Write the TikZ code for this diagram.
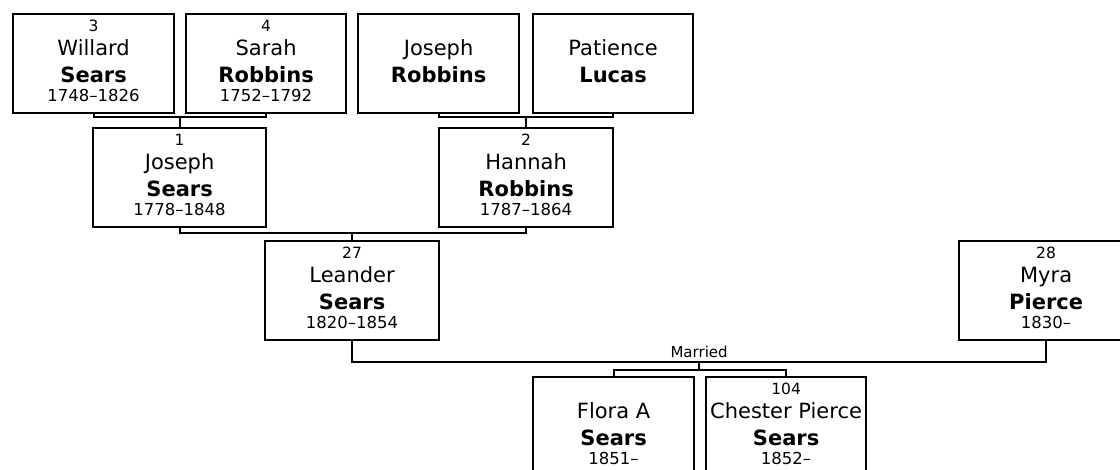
\documentclass[tikz,border=0pt]{standalone}
\usepackage{fontspec}
\setmainfont{DejaVu Sans}
% one person box: name, left, top, width, number, given name, surname, years
\newcommand\person[8]{%
  \node[pers, minimum width=#4] (#1) at (#2,#3) {};
  \node[numtext] (#1-n) at ([yshift=-18pt]#1.north) {#5};
  \node[nametext] (#1-g) at ([yshift=-42pt]#1.north) {#6};
  \node[nametext, font=\fontsize{21}{24}\selectfont\bfseries] (#1-s) at ([yshift=-69pt]#1.north) {#7};
  \node[yeartext] (#1-y) at ([yshift=-88pt]#1.north) {#8};
}
\begin{document}
\begin{tikzpicture}[x=1pt, y=-1pt, line join=miter,
    pers/.style={draw, line width=2.2pt, anchor=north west, minimum height=99pt, inner sep=0pt},
    numtext/.style={anchor=base, inner sep=0pt, font=\fontsize{15.5}{17}\selectfont},
    nametext/.style={anchor=base, inner sep=0pt, font=\fontsize{21}{24}\selectfont},
    yeartext/.style={anchor=base, inner sep=0pt, font=\fontsize{16.5}{18}\selectfont},
    link/.style={line width=2.2pt}]
  \useasboundingbox (0,0) rectangle (1120,469);
  \clip (0,0) rectangle (1120,469);
  % grandparents
  \person{w3}{12}{13}{161}{3}{Willard}{Sears}{1748–1826}
  \person{w4}{185}{13}{160}{4}{Sarah}{Robbins}{1752–1792}
  \person{jr}{357}{13}{161}{}{Joseph}{Robbins}{}
  \person{pl}{532}{13}{160}{}{Patience}{Lucas}{}
  % parents
  \person{w1}{92}{127}{173}{1}{Joseph}{Sears}{1778–1848}
  \person{w2}{438}{127}{174}{2}{Hannah}{Robbins}{1787–1864}
  % couple
  \person{w27}{264}{240}{174}{27}{Leander}{Sears}{1820–1854}
  \person{w28}{958}{240}{174}{28}{Myra}{Pierce}{1830–}
  % children
  \person{flora}{532}{376}{161}{}{Flora A}{Sears}{1851–}
  \person{w104}{705}{376}{160}{104}{Chester Pierce}{Sears}{1852–}
  % family lines
  \draw[link] (w3.south) |- (w1.north |- 0,117) -| (w4.south);
  \draw[link] (w1.north) -- (w1.north |- 0,117);
  \draw[link] (jr.south) |- (w2.north |- 0,117) -| (pl.south);
  \draw[link] (w2.north) -- (w2.north |- 0,117);
  \draw[link] (w1.south) |- (w27.north |- 0,233) -| (w2.south);
  \draw[link] (w27.north) -- (w27.north |- 0,233);
  \draw[link] (w27.south) -- ++(0,21) -| coordinate[pos=.25] (wed)
    node[pos=.25, above=3pt, inner sep=0pt, font=\fontsize{15}{17}\selectfont] (married) {Married} (w28.south);
  \draw[link] (wed) -- ++(0,8) coordinate (kids);
  \draw[link] (flora.north) |- (kids) -| (w104.north);
\end{tikzpicture}
\end{document}
